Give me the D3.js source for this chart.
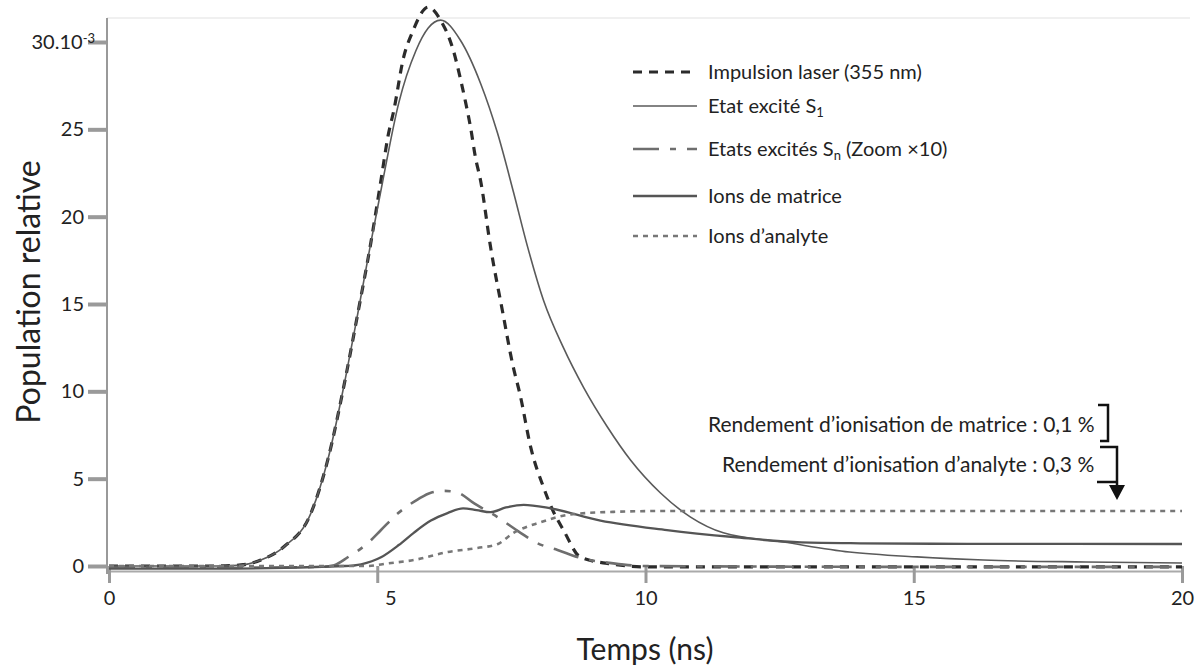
<!DOCTYPE html>
<html>
<head>
<meta charset="utf-8">
<script src="https://cdn.jsdelivr.net/npm/d3@7"></script>
<style>
  body { margin: 0; background: #fff; }
  svg { display: block; }
  text { font-family: Lato, "Open Sans", sans-serif; fill: #222; }
</style>
</head>
<body>
<div id="viz"></div>
<script>
const width = 1198;
const height = 666;

// time axis (ns) and y ticks (x10^-3)
const xTicks = [0, 5, 10, 15, 20];
const yTicks = [0, 5, 10, 15, 20, 25, 30];
const yTickLabels = ['0', '5', '10', '15', '20', '25', '30.10'];

// Impulsion laser (355 nm)
const laserT = [0, 1, 2, 2.46, 2.83, 3.26, 3.76, 4.08, 4.41, 4.64, 4.88, 5.07, 5.2, 5.31, 5.49, 5.66, 5.95, 6.18, 6.42, 6.55, 6.65, 6.74, 6.83, 6.93, 7.11, 7.34, 7.52, 7.67, 7.86, 8.1, 8.27, 8.47, 8.79, 9.4, 10, 15, 20];
const laserV = [0, 0, 0, 0.06, 0.34, 1.1, 3.0, 6.1, 10.8, 14.5, 18.5, 22.1, 24.6, 26.1, 29.1, 30.6, 32.0, 31.25, 29.5, 27.9, 26.5, 25.1, 23.4, 22.0, 18.3, 14.5, 11.6, 9.7, 6.8, 4.5, 3.2, 2.06, 0.5, 0.1, -0.05, -0.05, -0.05];

// Etat excité S1
const s1T = [0, 1, 2, 2.46, 2.83, 3.26, 3.76, 4.08, 4.41, 4.64, 4.88, 5.1, 5.4, 5.72, 5.95, 6.18, 6.55, 6.93, 7.24, 7.54, 7.8, 8.1, 8.47, 8.85, 9.29, 9.72, 10.28, 10.84, 11.45, 12.57, 13.8, 15.06, 16.3, 18.2, 20];
const s1V = [0, 0, 0, 0.06, 0.34, 1.1, 3.0, 6.1, 10.8, 14.5, 18.5, 22.0, 26.5, 29.5, 30.8, 31.25, 30.1, 27.6, 24.8, 21.4, 18.3, 15.2, 12.5, 10.2, 7.96, 6.07, 4.18, 2.8, 1.9, 1.37, 0.8, 0.52, 0.34, 0.23, 0.17];

// Etats excités Sn (Zoom x10)
const snT = [0, 2, 4, 4.2, 4.45, 4.82, 5.07, 5.38, 5.75, 6.0, 6.25, 6.5, 6.8, 7.24, 7.67, 7.99, 8.36, 8.79, 9.4, 10, 15, 20];
const snV = [-0.1, -0.1, -0.05, 0.05, 0.5, 1.3, 2.06, 3.0, 3.8, 4.2, 4.3, 4.2, 3.6, 2.8, 1.9, 1.3, 0.92, 0.46, 0.15, 0.0, -0.05, -0.05];

// Ions de matrice
const matT = [0, 2, 4.4, 4.7, 5.07, 5.4, 5.68, 6.0, 6.31, 6.6, 6.85, 7.11, 7.4, 7.73, 8.23, 9.16, 10.4, 11.64, 12.9, 14, 16, 20];
const matV = [-0.15, -0.15, 0, 0.1, 0.5, 1.2, 1.9, 2.6, 3.03, 3.3, 3.2, 3.08, 3.35, 3.5, 3.3, 2.6, 2.06, 1.66, 1.35, 1.3, 1.27, 1.26];

// Ions d'analyte
const anaT = [0, 2, 4.8, 5.2, 5.68, 6.31, 6.87, 7.24, 7.54, 8.04, 8.6, 9.4, 10.4, 12, 20];
const anaV = [0, 0, 0, 0.15, 0.34, 0.8, 1.03, 1.25, 1.9, 2.5, 2.95, 3.1, 3.15, 3.15, 3.15];

const legendLabels = ['Impulsion laser (355 nm)', 'Etat excité S', 'Etats excités S', 'Ions de matrice', 'Ions d\u2019analyte'];
const legendSubs = ['', '1', 'n', '', ''];
const legendExtra = ['', '', ' (Zoom \u00d710)', '', ''];

const annotations = ['Rendement d\u2019ionisation de matrice : 0,1 %', 'Rendement d\u2019ionisation d\u2019analyte : 0,3 %'];

const series = [
  {t: laserT, v: laserV, stroke: '#2b2b2b', width: 3.2, dash: '9,7'},
  {t: s1T, v: s1V, stroke: '#5a5a5a', width: 1.6, dash: null},
  {t: snT, v: snV, stroke: '#6e6e6e', width: 2.6, dash: '26,11,6,11'},
  {t: matT, v: matV, stroke: '#555', width: 2.3, dash: null},
  {t: anaT, v: anaV, stroke: '#777', width: 2.6, dash: '5,5'}
];

const xScale = d3.scaleLinear().domain([0, 20]).range([109, 1182]);
const yScale = d3.scaleLinear().domain([0, 30]).range([566, 42]);

const svg = d3.select('#viz')
  .append('svg')
    .attr('width', width)
    .attr('height', height);

// faint frame top
svg.append('line')
  .attr('x1', 107).attr('x2', 1190)
  .attr('y1', 18).attr('y2', 18)
  .attr('stroke', '#f0f0f0').attr('stroke-width', 2);

// y axis
const yAxis = svg.append('g')
  .attr('class', 'y-axis')
  .attr('transform', 'translate(107,0)')
  .call(d3.axisLeft(yScale).tickValues(yTicks).tickSize(19).tickPadding(4)
    .tickFormat((d, i) => yTickLabels[i]));
yAxis.select('.domain').remove();
yAxis.selectAll('.tick line').attr('stroke', '#9a9a9a').attr('stroke-width', 4);
yAxis.selectAll('.tick text').attr('font-size', 20).attr('font-family', 'Lato');
yAxis.selectAll('.tick text').filter(d => d === 30)
  .attr('x', -12)
  .append('tspan').attr('dy', '-0.45em').attr('font-size', 13).text('-3');

svg.append('line')
  .attr('x1', 107).attr('x2', 107)
  .attr('y1', yScale(30) - 24).attr('y2', yScale(0) + 8)
  .attr('stroke', '#999').attr('stroke-width', 2);

// x axis
const xAxis = svg.append('g')
  .attr('class', 'x-axis')
  .attr('transform', `translate(0,${yScale(0)})`)
  .call(d3.axisBottom(xScale).tickValues(xTicks).tickSize(17).tickSizeOuter(0).tickPadding(8));
xAxis.select('.domain').attr('transform', 'translate(0,5)').attr('stroke', '#aaa').attr('stroke-width', 2);
xAxis.selectAll('.tick line').attr('stroke', '#9a9a9a').attr('stroke-width', 3);
xAxis.selectAll('.tick text').attr('font-size', 20).attr('font-family', 'Lato');
xAxis.selectAll('.tick text').filter(d => d === 5).attr('dx', 13);

// axis titles
svg.append('text')
  .attr('x', 645).attr('y', 660)
  .attr('text-anchor', 'middle')
  .attr('font-family', 'Open Sans')
  .attr('font-size', 30)
  .text('Temps (ns)');

svg.append('text')
  .attr('transform', 'translate(40,292) rotate(-90)')
  .attr('text-anchor', 'middle')
  .attr('font-family', 'Open Sans')
  .attr('font-size', 32)
  .text('Population relative');

// curves
const lineGenerator = d3.line()
  .x(d => xScale(d[0]))
  .y(d => yScale(d[1]))
  .curve(d3.curveMonotoneX);

svg.append('g')
  .attr('class', 'curves')
  .selectAll('path')
  .data(series)
  .join('path')
    .attr('d', s => lineGenerator(d3.zip(s.t, s.v)))
    .attr('fill', 'none')
    .attr('stroke', s => s.stroke)
    .attr('stroke-width', s => s.width)
    .attr('stroke-dasharray', s => s.dash);

// legend
const legendY = [72, 106, 149, 196, 236];
const legend = svg.append('g').attr('class', 'legend');
const rows = legend.selectAll('g')
  .data(series)
  .join('g')
    .attr('transform', (d, i) => `translate(0,${legendY[i]})`);

rows.append('line')
  .attr('x1', 633).attr('x2', 697)
  .attr('stroke', s => s.stroke)
  .attr('stroke-width', s => s.width)
  .attr('stroke-dasharray', s => s.dash);

const labels = rows.append('text')
  .attr('x', 708).attr('y', 7)
  .attr('font-size', 20);
labels.append('tspan').text((d, i) => legendLabels[i]);
labels.append('tspan')
  .attr('dy', 4).attr('font-size', 13)
  .text((d, i) => legendSubs[i]);
labels.append('tspan')
  .attr('dy', (d, i) => legendSubs[i] ? -4 : 0)
  .text((d, i) => legendExtra[i]);

// annotations
svg.selectAll('.annot')
  .data(annotations)
  .join('text')
    .attr('class', 'annot')
    .attr('x', (d, i) => i === 0 ? 708 : 722)
    .attr('y', (d, i) => i === 0 ? 432 : 472)
    .attr('font-size', 21)
    .text(d => d);

const bracket = svg.append('g')
  .attr('fill', 'none')
  .attr('stroke', '#111')
  .attr('stroke-width', 2.5);
bracket.append('path').attr('d', 'M1098,405 H1108 V441 H1100');
bracket.append('path').attr('d', 'M1100,447 H1117 V488');
bracket.append('path').attr('d', 'M1097,482 H1117');
svg.append('path')
  .attr('d', 'M1109,485 L1125,485 L1117,500 Z')
  .attr('fill', '#111');
</script>
</body>
</html>
